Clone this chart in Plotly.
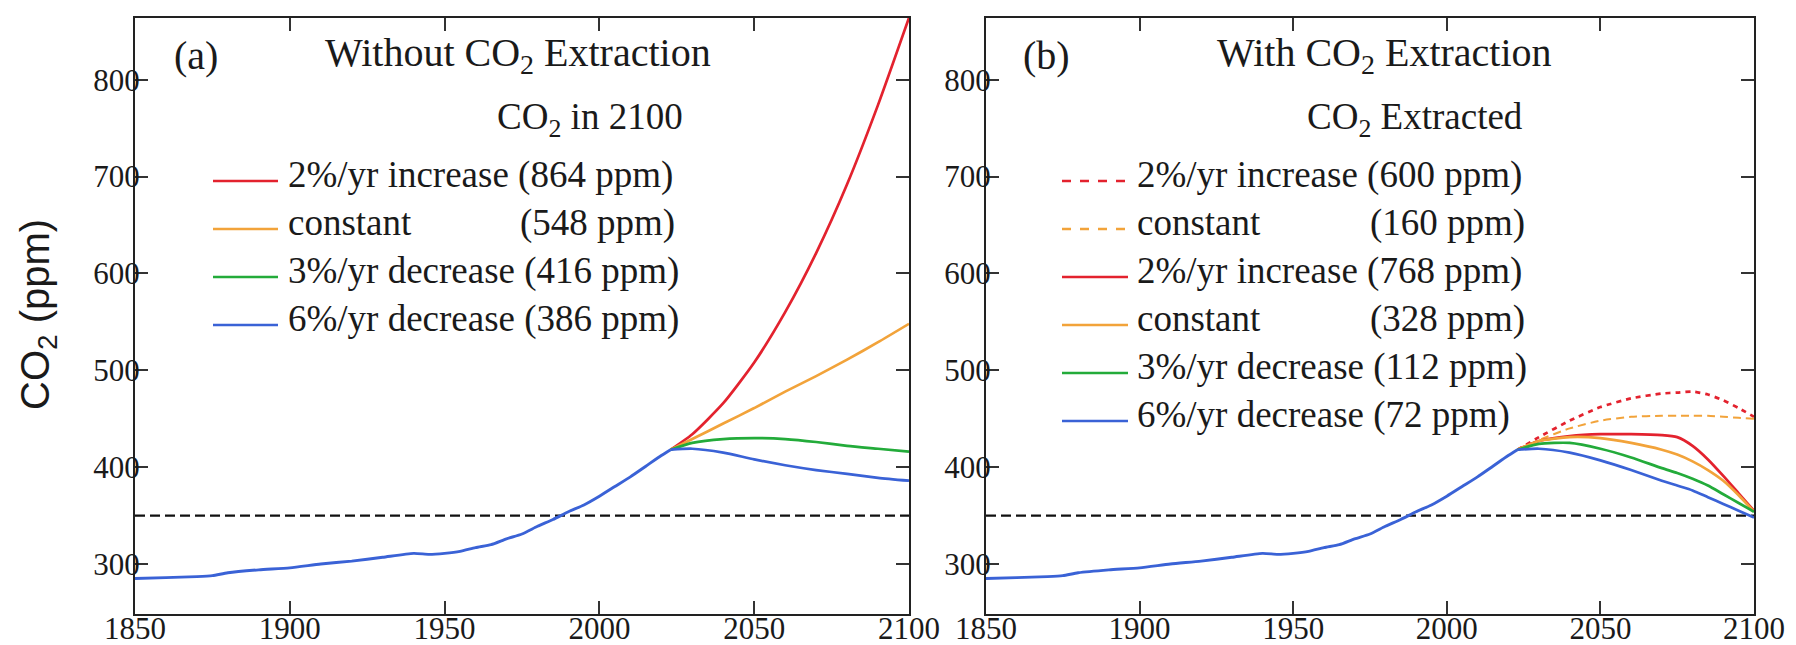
import plotly.graph_objects as go

# ---------------- data ----------------
YEARS_HIST = [1850, 1860, 1870, 1875, 1880, 1890, 1900, 1910, 1920, 1930, 1940, 1945,
              1950, 1955, 1960, 1965, 1970, 1975, 1980, 1985, 1990, 1995, 2000, 2005,
              2010, 2015, 2020, 2023]
CO2_HIST = [285, 286, 287, 288, 291, 294, 296, 300, 303, 307, 311, 310,
            311, 313, 317, 320, 326, 331, 339, 346, 354, 361, 370, 380,
            390, 401, 412, 418]

YEARS_A = [2023, 2030, 2040, 2050, 2060, 2070, 2080, 2090, 2100]
A_INC2 = [418, 434, 466, 508, 560, 621, 692, 774, 864]
A_CONST = [418, 429, 445, 461, 478, 494, 511, 529, 548]
A_DEC3 = [418, 425, 429, 430, 429, 426, 422, 419, 416]
A_DEC6 = [418, 419, 415, 408, 402, 397, 393, 389, 386]

YEARS_B = [2023, 2030, 2040, 2050, 2060, 2070, 2075, 2080, 2085, 2090, 2095, 2100]
B_INC2_NOEXT = [418, 431, 448, 462, 471, 476, 477, 478, 475, 469, 461, 452]
B_CONST_NOEXT = [418, 428, 440, 448, 452, 453, 453, 453, 453, 452, 451, 450]
B_INC2 = [418, 427, 432, 434, 434, 433, 431, 422, 408, 391, 373, 355]
B_CONST = [418, 427, 431, 430, 425, 418, 413, 406, 397, 386, 371, 354]
B_DEC3 = [418, 424, 425, 419, 410, 399, 394, 388, 381, 372, 363, 354]
B_DEC6 = [418, 419, 415, 407, 397, 386, 381, 376, 369, 362, 355, 348]

TARGET = 350
X_RANGE = [1850, 2100]
Y_RANGE = [248.4, 863.7]
X_TICKS = [1850, 1900, 1950, 2000, 2050, 2100]
Y_TICKS = [300, 400, 500, 600, 700, 800]

TITLE_A = "Without CO<sub>2</sub> Extraction"
TITLE_B = "With CO<sub>2</sub> Extraction"
HEAD_A = "CO<sub>2</sub> in 2100"
HEAD_B = "CO<sub>2</sub> Extracted"
LEG_A = [("2%/yr increase (864 ppm)", None), ("constant", "(548 ppm)"),
         ("3%/yr decrease (416 ppm)", None), ("6%/yr decrease (386 ppm)", None)]
LEG_B = [("2%/yr increase (600 ppm)", None), ("constant", "(160 ppm)"),
         ("2%/yr increase (768 ppm)", None), ("constant", "(328 ppm)"),
         ("3%/yr decrease (112 ppm)", None), ("6%/yr decrease (72 ppm)", None)]

# ---------------- styles ----------------
W, H = 1796, 645
RED, ORANGE, GREEN, BLUE = "#e3222e", "#f2a33a", "#23ab3a", "#3a62d6"
SERIF = "Liberation Serif, Times New Roman, serif"
SANS = "Liberation Sans, Arial, sans-serif"
INK = "#1a1a1a"


def px(x):
    return x / W


def py(y):
    return 1 - y / H


fig = go.Figure()


def add_line(xs, ys, color, xa, ya, dash="solid", width=2.7):
    fig.add_trace(go.Scatter(x=xs, y=ys, mode="lines", xaxis=xa, yaxis=ya,
                             line=dict(color=color, width=width, dash=dash, shape="spline", smoothing=0.6),
                             showlegend=False, hoverinfo="skip"))


for xa, ya in (("x", "y"), ("x2", "y2")):
    fig.add_trace(go.Scatter(x=X_RANGE, y=[TARGET, TARGET], mode="lines", xaxis=xa, yaxis=ya,
                             line=dict(color="#111", width=2.2, dash="10px,5px"),
                             showlegend=False, hoverinfo="skip"))

# panel (a)
add_line(YEARS_A, A_INC2, RED, "x", "y")
add_line(YEARS_A, A_CONST, ORANGE, "x", "y")
add_line(YEARS_A, A_DEC3, GREEN, "x", "y")
add_line(YEARS_A, A_DEC6, BLUE, "x", "y")
add_line(YEARS_HIST, CO2_HIST, BLUE, "x", "y", width=2.9)

# panel (b)
add_line(YEARS_B, B_INC2_NOEXT, RED, "x2", "y2", dash="5px,5px")
add_line(YEARS_B, B_CONST_NOEXT, ORANGE, "x2", "y2", dash="8px,5px", width=2.0)
add_line(YEARS_B, B_INC2, RED, "x2", "y2")
add_line(YEARS_B, B_CONST, ORANGE, "x2", "y2")
add_line(YEARS_B, B_DEC3, GREEN, "x2", "y2")
add_line(YEARS_B, B_DEC6, BLUE, "x2", "y2")
add_line(YEARS_HIST, CO2_HIST, BLUE, "x2", "y2", width=2.9)

axis_common = dict(showline=True, linecolor="#222", linewidth=2, mirror="ticks",
                   ticks="inside", ticklen=13, tickwidth=1.6, tickcolor="#333",
                   showgrid=False, zeroline=False, automargin=False,
                   tickfont=dict(family=SERIF, size=31, color=INK))

fig.update_layout(
    width=W, height=H,
    margin=dict(l=0, r=0, t=0, b=0, autoexpand=False),
    paper_bgcolor="white", plot_bgcolor="white",
    xaxis=dict(domain=[px(127), px(901)], range=X_RANGE, tickvals=X_TICKS, anchor="y",
               ticklabelstandoff=-14, **axis_common),
    yaxis=dict(domain=[py(606), py(10)], range=Y_RANGE, tickvals=Y_TICKS, anchor="x",
               ticklabelstandoff=-13, **axis_common),
    xaxis2=dict(domain=[px(978), px(1746)], range=X_RANGE, tickvals=X_TICKS, anchor="y2",
                ticklabelstandoff=-14, **axis_common),
    yaxis2=dict(domain=[py(606), py(10)], range=Y_RANGE, tickvals=Y_TICKS, anchor="x2",
                ticklabelstandoff=-13, **axis_common),
)

ann = []
shapes = []


def text(x, y, s, anchor="left", size=37, family=SERIF, angle=0):
    ann.append(dict(x=px(x), y=py(y), xref="paper", yref="paper", text=s, showarrow=False,
                    xanchor=anchor, yanchor="middle", textangle=angle,
                    font=dict(family=family, size=size, color=INK)))


# titles
text(188, 47, "(a)", anchor="center", size=40)
text(510, 47, TITLE_A, anchor="center", size=40)
text(1038, 47, "(b)", anchor="center", size=40)
text(1376, 47, TITLE_B, anchor="center", size=40)
text(677, 111, HEAD_A, anchor="right")
text(1517, 111, HEAD_B, anchor="right")
text(30, 307, "CO<sub>2</sub> (ppm)", anchor="center", size=40, family=SANS, angle=-90)

# legends
row_y = [167 + 48 * i for i in range(6)]
leg_a_styles = [(RED, "solid"), (ORANGE, "solid"), (GREEN, "solid"), (BLUE, "solid")]
leg_b_styles = [(RED, "dash"), (ORANGE, "dash"), (RED, "solid"), (ORANGE, "solid"), (GREEN, "solid"), (BLUE, "solid")]


def legend(entries, styles, x0, x1, xt, xr):
    for (lab, ppm), (col, dash), yy in zip(entries, styles, row_y):
        shapes.append(dict(type="line", xref="paper", yref="paper", x0=px(x0), x1=px(x1),
                           y0=py(yy + 6), y1=py(yy + 6), line=dict(color=col, width=2.6, dash=dash)))
        text(xt, yy, lab, anchor="left")
        if ppm:
            text(xr, yy, ppm, anchor="right")


legend(LEG_A, leg_a_styles, 205, 270, 278, 669)
legend(LEG_B, leg_b_styles, 1054, 1120, 1127, 1519)

fig.update_layout(annotations=ann, shapes=shapes)
fig.write_html("out.html")
